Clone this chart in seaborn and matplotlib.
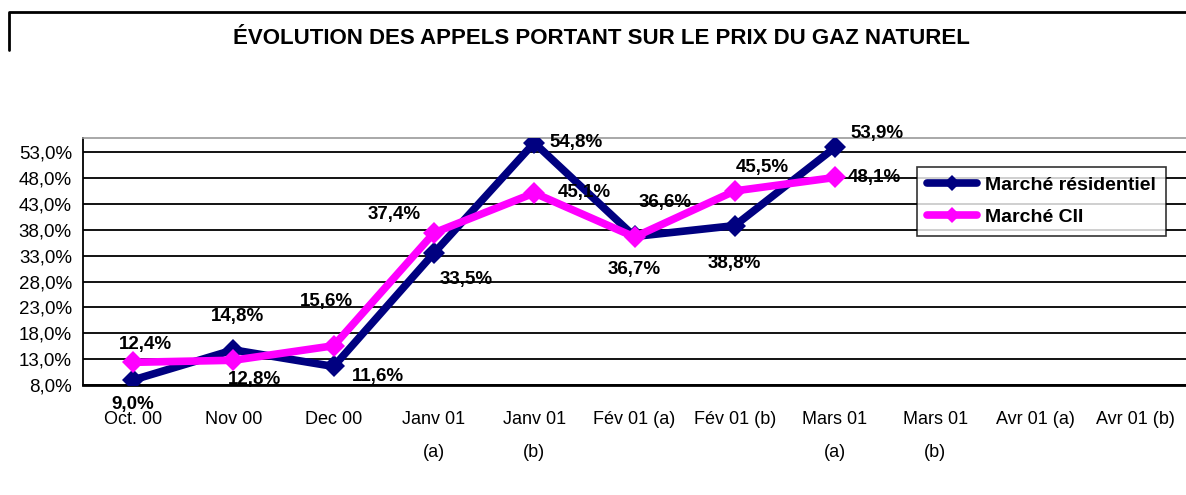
"""
Évolution des appels portant sur le prix du gaz naturel
"""

import pandas as pd
import matplotlib.pyplot as plt
import seaborn as sns
from matplotlib.lines import Line2D
from matplotlib.ticker import FuncFormatter, FixedLocator

# Data
mois = ['Oct. 00', 'Nov 00', 'Dec 00', 'Janv 01\n\n(a)', 'Janv 01\n\n(b)',
        'Fév 01 (a)', 'Fév 01 (b)', 'Mars 01\n\n(a)', 'Mars 01\n\n(b)',
        'Avr 01 (a)', 'Avr 01 (b)']
residentiel = [9.0, 14.8, 11.6, 33.5, 54.8, 36.7, 38.8, 53.9]
cii = [12.4, 12.8, 15.6, 37.4, 45.1, 36.6, 45.5, 48.1]
y_ticks = [8, 13, 18, 23, 28, 33, 38, 43, 48, 53]

NAVY = '#000080'
MAGENTA = '#FF00FF'

df = pd.concat([
    pd.DataFrame({'x': range(len(residentiel)), 'val': residentiel, 'serie': 'Marché résidentiel'}),
    pd.DataFrame({'x': range(len(cii)), 'val': cii, 'serie': 'Marché CII'}),
])

sns.set_style("white")
plt.rcParams['font.family'] = ['Liberation Sans', 'DejaVu Sans']
plt.rcParams['text.color'] = 'black'
plt.rcParams['xtick.color'] = 'black'
plt.rcParams['ytick.color'] = 'black'

fig = plt.figure(figsize=(11.86, 4.95), dpi=100)
ax = fig.add_axes([0.07, 0.222, 0.93, 0.499])

sns.lineplot(data=df, x='x', y='val', hue='serie', style='serie',
             palette={'Marché résidentiel': NAVY, 'Marché CII': MAGENTA},
             markers={'Marché résidentiel': 'D', 'Marché CII': 'D'},
             dashes=False, linewidth=5.5, markersize=11, markeredgewidth=0,
             legend=False, ax=ax, zorder=3)

# Labels (offsets in points)
res_off = [(0, -18), (3, 24), (32, -7), (23, -19), (30, 0), (0, -24), (0, -27), (30, 10)]
cii_off = [(9, 13), (15, -14), (-5, 32), (-29, 13), (36, 0), (22, 25), (20, 17), (28, 0)]
for i, (v, off) in enumerate(zip(residentiel, res_off)):
    ax.annotate(f'{v:.1f}%'.replace('.', ','), (i, v), xytext=off, textcoords='offset points',
                ha='center', va='center', fontsize=13.5, fontweight='bold', zorder=5)
for i, (v, off) in enumerate(zip(cii, cii_off)):
    ax.annotate(f'{v:.1f}%'.replace('.', ','), (i, v), xytext=off, textcoords='offset points',
                ha='center', va='center', fontsize=13.5, fontweight='bold', zorder=5)

ax.set_xlim(-0.5, len(mois) - 0.5)
ax.set_ylim(8, 55.7)
ax.set_yticks(y_ticks)
ax.yaxis.set_major_formatter(FuncFormatter(lambda v, p: f'{v:.1f}%'.replace('.', ',')))
ax.set_xticks(range(len(mois)))
ax.set_xticklabels(mois, fontsize=13, va='top', linespacing=0.95)
ax.xaxis.set_minor_locator(FixedLocator([i - 0.5 for i in range(len(mois) + 1)]))
ax.tick_params(axis='x', which='major', length=0, pad=19)
ax.tick_params(axis='x', which='minor', length=6, width=1.5, direction='out', color='black')
ax.tick_params(axis='y', length=6, width=1.2, direction='out', color='black', labelsize=13.5, pad=2)
ax.set_xlabel('')
ax.set_ylabel('')

ax.grid(axis='y', color='black', linewidth=1.3, zorder=1)
ax.set_axisbelow(True)
ax.spines['right'].set_visible(False)
ax.spines['top'].set_color('#999999')
ax.spines['top'].set_linewidth(1.2)
ax.spines['left'].set_color('black')
ax.spines['left'].set_linewidth(1.3)
ax.spines['bottom'].set_color('black')
ax.spines['bottom'].set_linewidth(2)

handles = [Line2D([], [], color=NAVY, lw=5.5, marker='D', markersize=8, markeredgewidth=0),
           Line2D([], [], color=MAGENTA, lw=5.5, marker='D', markersize=8, markeredgewidth=0)]
leg = ax.legend(handles, ['Marché résidentiel', 'Marché CII'], loc='upper left',
                bbox_to_anchor=(0.756, 0.885), frameon=True, fancybox=False,
                prop={'weight': 'bold', 'size': 14}, handlelength=2.6,
                borderpad=0.5, labelspacing=0.75, handletextpad=0.4, borderaxespad=0)
leg.get_frame().set_edgecolor('black')
leg.get_frame().set_linewidth(1.2)
leg.set_zorder(6)

# Title with partial frame
fig.text(0.507, 0.922, 'ÉVOLUTION DES APPELS PORTANT SUR LE PRIX DU GAZ NATUREL',
         ha='center', va='center', fontsize=16, fontweight='bold')
fig.add_artist(Line2D([0.0075, 0.0075, 1.0], [0.898, 0.975, 0.975], color='black',
                      linewidth=2, transform=fig.transFigure))

plt.savefig('out.png', dpi=100)
